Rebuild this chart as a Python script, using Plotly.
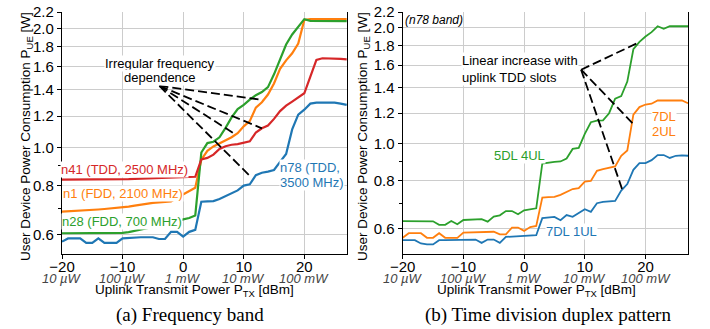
import math
import plotly.graph_objects as go

W, H = 710, 329

# ---------------- data ----------------
x_dbm = list(range(-20, 28))
x_ticks = [-20, -10, 0, 10, 20]
x_tick_labels = ["\u221220", "\u221210", "0", "10", "20"]
power_labels = ["10 \u00b5W", "100 \u00b5W", "1 mW", "10 mW", "100 mW"]
y_ticks = [0.6, 0.8, 1.0, 1.2, 1.4, 1.6, 1.8, 2.0, 2.2]
y_tick_labels = ["0.6", "0.8", "1.0", "1.2", "1.4", "1.6", "1.8", "2.0", "2.2"]
y_minor = [0.7, 0.9]

# (a) frequency band
band_n78 = [0.577, 0.588, 0.588, 0.588, 0.573, 0.573, 0.588, 0.573, 0.573, 0.573,
            0.588, 0.590, 0.590, 0.592, 0.592, 0.592, 0.586, 0.586, 0.611, 0.611,
            0.594, 0.611, 0.618, 0.728, 0.730, 0.731, 0.740, 0.752, 0.765, 0.778,
            0.800, 0.806, 0.850, 0.862, 0.868, 0.876, 0.919, 0.962, 1.110, 1.210,
            1.245, 1.290, 1.297, 1.297, 1.297, 1.297, 1.290, 1.280]
band_n1 = [0.687, 0.688, 0.689, 0.690, 0.692, 0.694, 0.696, 0.698, 0.700, 0.703,
           0.705, 0.708, 0.712, 0.716, 0.721, 0.723, 0.725, 0.727, 0.729, 0.745,
           0.760, 0.775, 0.790, 0.930, 0.980, 1.005, 1.022, 1.040, 1.060, 1.085,
           1.130, 1.165, 1.260, 1.300, 1.360, 1.450, 1.580, 1.660, 1.730, 1.830,
           2.100, 2.110, 2.110, 2.110, 2.110, 2.110, 2.110, 2.110]
band_n28 = [0.606, 0.606, 0.606, 0.606, 0.606, 0.606, 0.606, 0.606, 0.606, 0.606,
            0.607, 0.610, 0.614, 0.620, 0.624, 0.628, 0.633, 0.638, 0.645, 0.652,
            0.657, 0.662, 0.672, 0.970, 1.025, 1.033, 1.060, 1.120, 1.190, 1.250,
            1.280, 1.320, 1.355, 1.380, 1.420, 1.530, 1.660, 1.820, 1.930, 2.020,
            2.110, 2.090, 2.090, 2.090, 2.090, 2.090, 2.090, 2.085]
band_n41 = [0.828, 0.828, 0.828, 0.828, 0.828, 0.828, 0.828, 0.829, 0.829, 0.829,
            0.830, 0.831, 0.832, 0.833, 0.834, 0.835, 0.836, 0.836, 0.837, 0.838,
            0.838, 0.839, 0.842, 0.932, 0.940, 0.958, 0.990, 1.006, 1.015, 1.019,
            1.025, 1.035, 1.090, 1.117, 1.135, 1.180, 1.235, 1.275, 1.305, 1.335,
            1.370, 1.510, 1.665, 1.680, 1.680, 1.680, 1.675, 1.670]

# (b) TDD pattern (n78 band)
tdd_7dl1ul = [0.561, 0.561, 0.561, 0.550, 0.547, 0.547, 0.561, 0.561, 0.561, 0.561,
              0.561, 0.562, 0.563, 0.552, 0.563, 0.563, 0.552, 0.572, 0.573, 0.574,
              0.574, 0.575, 0.578, 0.640, 0.643, 0.645, 0.632, 0.652, 0.645, 0.660,
              0.675, 0.665, 0.700, 0.706, 0.708, 0.710, 0.755, 0.785, 0.855, 0.890,
              0.890, 0.906, 0.934, 0.934, 0.918, 0.930, 0.932, 0.930]
tdd_7dl2ul = [0.569, 0.585, 0.585, 0.585, 0.569, 0.569, 0.585, 0.569, 0.569, 0.569,
              0.587, 0.588, 0.589, 0.589, 0.590, 0.590, 0.581, 0.581, 0.605, 0.605,
              0.593, 0.607, 0.611, 0.724, 0.726, 0.727, 0.736, 0.748, 0.762, 0.766,
              0.797, 0.800, 0.850, 0.858, 0.865, 0.873, 0.930, 0.960, 1.190, 1.245,
              1.264, 1.270, 1.295, 1.295, 1.295, 1.295, 1.295, 1.274]
tdd_5dl4ul = [0.629, 0.629, 0.629, 0.629, 0.628, 0.628, 0.615, 0.615, 0.629, 0.617,
              0.633, 0.634, 0.635, 0.636, 0.627, 0.646, 0.651, 0.668, 0.668, 0.655,
              0.671, 0.675, 0.679, 0.888, 0.893, 0.897, 0.899, 0.915, 0.969, 0.975,
              1.060, 1.137, 1.148, 1.150, 1.200, 1.310, 1.330, 1.450, 1.760, 1.840,
              1.900, 1.950, 2.020, 1.990, 2.020, 2.020, 2.020, 2.020]

# annotation pointer lines (data coordinates: dBm, W)
apex_a = (-3.92, 1.43)
targets_a = [(13.1, 1.318), (13.0, 1.117), (8.6, 1.079), (11.3, 0.838)]
apex_b = (9.39, 1.557)
targets_b = [(18.7, 1.827), (17.87, 1.13), (16.2, 0.757)]

BLUE, ORANGE, GREEN, RED = "#1f77b4", "#ff7f0e", "#2ca02c", "#d62728"
FONT = "Liberation Sans, Arial, Helvetica, sans-serif"

fig = go.Figure()
for ys, c in [(band_n78, BLUE), (band_n1, ORANGE), (band_n28, GREEN), (band_n41, RED)]:
    fig.add_trace(go.Scatter(x=x_dbm, y=ys, mode="lines", line=dict(color=c, width=2.2),
                             xaxis="x", yaxis="y", hoverinfo="skip"))
for ys, c in [(tdd_7dl1ul, BLUE), (tdd_7dl2ul, ORANGE), (tdd_5dl4ul, GREEN)]:
    fig.add_trace(go.Scatter(x=x_dbm, y=ys, mode="lines", line=dict(color=c, width=1.8),
                             xaxis="x2", yaxis="y2", hoverinfo="skip"))

shapes = []
for (ax_, ay_), tg, xr, yr in [(apex_a, targets_a, "x", "y"), (apex_b, targets_b, "x2", "y2")]:
    for tx, ty in tg:
        shapes.append(dict(type="line", xref=xr, yref=yr, x0=ax_, y0=ay_, x1=tx, y1=ty,
                           line=dict(color="black", width=1.8, dash="9px,4px"), layer="above"))


def P(px, py):
    return px / W, 1 - py / H


annotations = []


def label(text, px, py, color="black", size=13, xanchor="center", bg="white", italic=False, family=FONT):
    x, y = P(px, py)
    if italic:
        text = "<i>" + text + "</i>"
    annotations.append(dict(text=text, x=x, y=y, xref="paper", yref="paper", showarrow=False,
                            xanchor=xanchor, yanchor="middle", font=dict(color=color, size=size, family=family),
                            bgcolor=bg, borderpad=0))


# panel (a)
label("Irregular frequency", 159.5, 63.5)
label("dependence", 159.5, 77.5)
label("n41 (TDD, 2500 MHz)", 125, 169, RED)
label("n1 (FDD, 2100 MHz)", 122.5, 193, ORANGE)
label("n28 (FDD, 700 MHz)", 121.5, 221.5, GREEN)
label("n78 (TDD,", 279, 167.5, BLUE, xanchor="left")
label("3500 MHz)", 279, 182, BLUE, xanchor="left")
# panel (b)
label("(n78 band)", 404, 20, size=12, xanchor="left", italic=True, bg="rgba(0,0,0,0)")
label("Linear increase with", 461, 60, xanchor="left")
label("uplink TDD slots", 461, 77, xanchor="left")
label("5DL 4UL", 519.5, 155, GREEN)
label("7DL", 651, 116.7, ORANGE, xanchor="left")
label("2UL", 651, 131, ORANGE, xanchor="left")
label("7DL 1UL", 571.5, 231.7, BLUE)

# axis titles
for cx in (26.5, 363.5):
    x, y = P(cx, 136.5)
    annotations.append(dict(text="User Device Power Consumption P<sub>UE</sub> [W]", x=x, y=y,
                            xref="paper", yref="paper", showarrow=False, textangle=-90,
                            xanchor="center", yanchor="middle", font=dict(size=13.5, family=FONT, color="black")))
for cx in (194, 536):
    x, y = P(cx, 290.5)
    annotations.append(dict(text="Uplink Transmit Power P<sub>TX</sub> [dBm]", x=x, y=y,
                            xref="paper", yref="paper", showarrow=False,
                            xanchor="center", yanchor="middle", font=dict(size=13.5, family=FONT, color="black")))

# secondary power labels under ticks
for xr in ("x", "x2"):
    for v, t in zip(x_ticks, power_labels):
        annotations.append(dict(text="<i>" + t + "</i>", x=v, y=1 - 278 / H, xref=xr, yref="paper",
                                showarrow=False, xanchor="center", yanchor="middle",
                                font=dict(size=13, family=FONT, color="#444444")))

# captions
for cx, t in [(190, "(a) Frequency band"), (548, "(b) Time division duplex pattern")]:
    x, y = P(cx, 315)
    annotations.append(dict(text=t, x=x, y=y, xref="paper", yref="paper", showarrow=False,
                            xanchor="center", yanchor="middle",
                            font=dict(size=19, family="Liberation Serif, Times New Roman, serif", color="black")))

ydom = [74.7 / H, 317 / H]


def xaxis(dom, anchor):
    return dict(domain=dom, anchor=anchor, range=[-20, 27.05], tickvals=x_ticks, ticktext=x_tick_labels,
                automargin=False, ticklabelstandoff=-5,
                showgrid=True, gridcolor="#cccccc", gridwidth=1.2, zeroline=False,
                showline=True, linecolor="black", linewidth=1.3, ticks="outside", ticklen=4,
                tickcolor="black", tickwidth=1.2, tickfont=dict(size=15, family=FONT, color="black"))


def yaxis(rng_low, anchor):
    return dict(domain=ydom, anchor=anchor, type="log", range=[math.log10(rng_low), math.log10(2.2)],
                automargin=False,
                tickvals=y_ticks, ticktext=y_tick_labels, showgrid=True, gridcolor="#cccccc", gridwidth=1.2,
                zeroline=False, showline=True, mirror=True, linecolor="black", linewidth=1.3,
                ticks="outside", ticklen=4, tickcolor="black", tickwidth=1.2,
                tickfont=dict(size=15, family=FONT, color="black"),
                minor=dict(tickvals=y_minor, ticks="outside", ticklen=2.5, tickcolor="black", showgrid=False))


fig.update_layout(
    width=W, height=H, margin=dict(l=0, r=0, t=0, b=0, pad=0),
    paper_bgcolor="white", plot_bgcolor="white", showlegend=False,
    font=dict(family=FONT, color="black"),
    xaxis=xaxis([62 / W, 347 / W], "y"),
    yaxis=yaxis(0.536, "x"),
    xaxis2=xaxis([402.7 / W, 688.3 / W], "y2"),
    yaxis2=yaxis(0.5155, "x2"),
    shapes=shapes, annotations=annotations,
)

fig.write_html("out.html", config={"displayModeBar": False},
               post_script="document.body.style.margin='0';document.body.style.overflow='hidden';")
